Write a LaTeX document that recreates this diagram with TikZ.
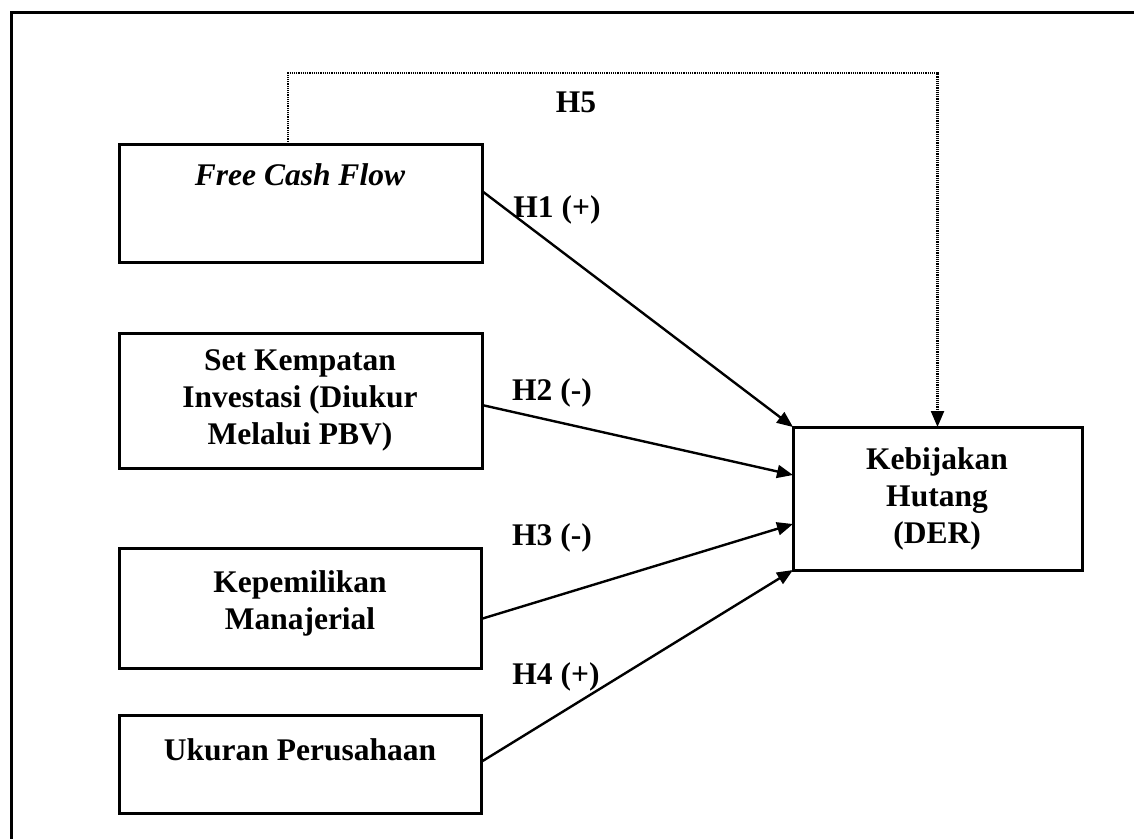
\documentclass[tikz,border=0pt]{standalone}
\usepackage{fontspec}
\setmainfont{Liberation Serif}
\usetikzlibrary{arrows.meta}
\begin{document}
\begin{tikzpicture}[x=1pt,y=-1pt,
  varbox/.style={draw, line width=3pt, rectangle, inner sep=0pt, outer sep=0pt},
  txt/.style={font=\fontsize{31.5}{37}\selectfont\bfseries, align=center, inner sep=0pt},
  hlab/.style={font=\fontsize{31.5}{37}\selectfont\bfseries, inner sep=0pt},
  arr/.style={line width=2.4pt, -{Triangle[length=16pt,width=13pt]}},
  dotarr/.style={line width=2.2pt, dash pattern=on 1.2pt off 1pt, -{Triangle[length=16pt,width=13pt]}}]
\useasboundingbox (0,0) rectangle (1134,839);
% outer frame (top and left edges only)
\draw[line width=3pt] (1134,12) -- (11,12) -- (11,839);
% boxes
\node[varbox, minimum width=363pt, minimum height=118pt] (fcf) at (300.5,203) {};
\node[varbox, minimum width=363pt, minimum height=135pt] (ios) at (300.5,400.5) {};
\node[varbox, minimum width=362pt, minimum height=120pt] (kep) at (300,608) {};
\node[varbox, minimum width=362pt, minimum height=98pt] (uk) at (300,764) {};
\node[varbox, minimum width=289pt, minimum height=143pt] (der) at (937.5,498.5) {};
% box texts
\node[txt] (fcft) at (300,175) {\itshape Free Cash Flow};
\node[txt] (iost) at (300,400) {Set Kempatan\\Investasi (Diukur\\Melalui PBV)};
\node[txt] (kept) at (300,603) {Kepemilikan\\Manajerial};
\node[txt] (ukt) at (300,750) {Ukuran Perusahaan};
\node[txt] (dert) at (937,499) {Kebijakan\\Hutang\\(DER)};
% connectors
\draw[arr] ([yshift=12pt]fcf.east) -- (der.north west);
\draw[arr] ([yshift=-4.5pt]ios.east) -- ([yshift=-48pt]der.north west);
\draw[arr] ([yshift=-11pt]kep.east) -- ([yshift=-97pt]der.north west);
\draw[arr] ([yshift=2pt]uk.east) -- (der.south west);
\draw[dotarr] ([xshift=-12.5pt]fcf.north) -- ++(0,-71) -| (der.north);
% labels
\node[hlab] (h5) at (576,102) {H5};
\node[hlab] (h1) at (557,210) {H1 (+)};
\node[hlab] (h2) at (552,393) {H2 (-)};
\node[hlab] (h3) at (552,538) {H3 (-)};
\node[hlab] (h4) at (556,677) {H4 (+)};
\end{tikzpicture}
\end{document}
